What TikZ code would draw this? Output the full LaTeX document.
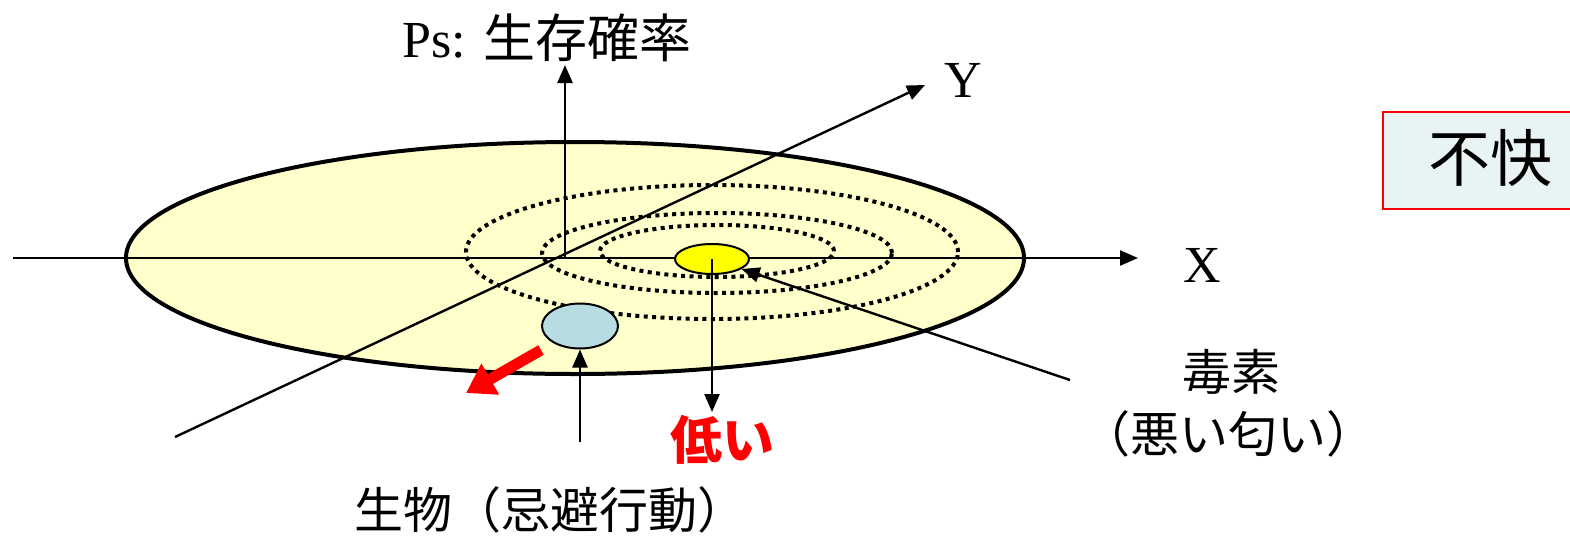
\documentclass[tikz,border=0pt]{standalone}
\usepackage{fontspec}
\setmainfont{Liberation Serif}
\newfontfamily\jp{Noto Sans CJK JP}
\usetikzlibrary{arrows.meta,shapes.geometric}
\definecolor{plateyellow}{HTML}{FFFFCC}
\definecolor{spotyellow}{HTML}{FFFF00}
\definecolor{bioblue}{HTML}{B7DDE3}
\definecolor{boxfill}{HTML}{E8F4F4}
\definecolor{redline}{HTML}{FF0000}
\begin{document}
\begin{tikzpicture}[x=0.5pt,y=-0.5pt,
  axis/.style={line width=1.2pt,-{Triangle[length=9pt,width=7.5pt]}},
  ring/.style={ellipse,draw,line width=2pt,dash pattern=on 2pt off 2.2pt,inner sep=0pt},
  blob/.style={ellipse,draw,line width=1pt,inner sep=0pt},
  lbl/.style={inner sep=0pt,font=\fontsize{24.5pt}{28pt}\selectfont\jp},
  axlbl/.style={inner sep=0pt,font=\fontsize{26pt}{30pt}\selectfont}]
\useasboundingbox (0,0) rectangle (1570,542);
% plate
\node[ellipse,draw,line width=2pt,fill=plateyellow,inner sep=0pt,
  minimum width=449pt,minimum height=116pt] (plate) at (575,258) {};
% dotted contour rings
\node[ring,minimum width=246pt,minimum height=67pt] (r3) at (712,252) {};
\node[ring,minimum width=175pt,minimum height=40pt] (r2) at (717,253) {};
\node[ring,minimum width=117pt,minimum height=26pt] (r1) at (717,251) {};
% axes
\coordinate (xs) at (13,258);
\coordinate (xe) at (1138,258);
\coordinate (O) at (565,258);
\coordinate (ze) at (565,65);
\coordinate (ys) at (175,437);
\coordinate (ye) at (925,85);
\draw[axis] (xs) -- (xe);
\draw[axis] (O) -- (ze);
\draw[axis] (ys) -- (ye);
% toxin spot and organism
\node[blob,fill=spotyellow,minimum width=37pt,minimum height=15pt] (yel) at (712,259) {};
\node[blob,fill=bioblue,minimum width=38pt,minimum height=22.5pt] (bio) at (580,326) {};
% labels
\node[axlbl] (ps) at (547,38) {Ps: {\jp 生存確率}};
\node[axlbl] (xl) at (1202,265) {X};
\node[axlbl] (yl) at (963,80) {Y};
\node[lbl,font=\fontsize{26pt}{30pt}\selectfont\jp\bfseries,text=redline] (low) at (722,440) {低い};
\node[lbl] (tox1) at (1231,372) {毒素};
\node[lbl] (tox2) at (1228,434) {（悪い匂い）};
\node[lbl] (biol) at (550,510) {生物（忌避行動）};
% connectors
\draw[axis] (yel.center) -- (712,412) coordinate (lowtip);
\coordinate (biostart) at (580,442);
\draw[axis] (biostart) -- (bio.south);
\coordinate (toxstart) at (1070,380);
\draw[axis] (toxstart) -- (yel);
\coordinate (escs) at (541,350);
\coordinate (esce) at (466,393);
\draw[line width=5.5pt,redline,-{Triangle[length=14pt,width=17pt]}] (escs) -- (esce);
% unpleasant box
\node[draw=redline,line width=1.2pt,fill=boxfill,anchor=north west,inner sep=0pt,
  minimum width=110pt,minimum height=48.5pt] (box) at (1382,111) {};
\node[inner sep=0pt,font=\fontsize{31pt}{35pt}\selectfont\jp] (fukai) at (1490,158) {不快};
\end{tikzpicture}
\end{document}
